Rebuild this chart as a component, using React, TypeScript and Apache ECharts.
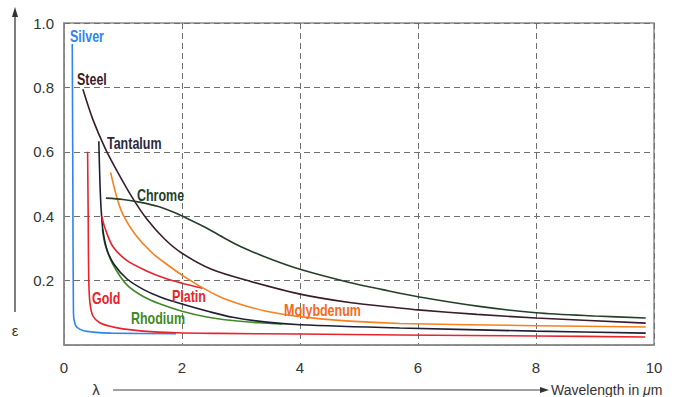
import React, { useEffect, useRef } from "react";
import * as echarts from "echarts";

// Wavelength (µm) vs emissivity ε
const silver: [number, number][] = [
  [0.14, 0.935], [0.15, 0.5], [0.16, 0.1], [0.18, 0.07], [0.22, 0.055],
  [0.32, 0.045], [0.5, 0.04], [0.8, 0.037], [1.9, 0.035],
];
const gold: [number, number][] = [
  [0.4, 0.6], [0.41, 0.4], [0.42, 0.2], [0.44, 0.13], [0.49, 0.09], [0.6, 0.07],
  [0.78, 0.058], [1.0, 0.05], [1.34, 0.043], [1.9, 0.038], [2.6, 0.036],
  [4.0, 0.034], [5.7, 0.031], [8.0, 0.028], [9.85, 0.025],
];
const steel: [number, number][] = [
  [0.32, 0.794], [0.49, 0.7], [0.7, 0.61], [0.9, 0.54], [1.15, 0.46],
  [1.4, 0.392], [1.7, 0.33], [2.0, 0.285], [2.5, 0.235], [3.15, 0.198],
  [4.0, 0.158], [4.84, 0.132], [5.68, 0.115], [6.0, 0.109], [7.0, 0.095],
  [8.0, 0.084], [9.86, 0.068],
];
const tantalum: [number, number][] = [
  [0.59, 0.633], [0.61, 0.5], [0.63, 0.42], [0.66, 0.355], [0.73, 0.295],
  [0.85, 0.25], [1.07, 0.205], [1.35, 0.172], [1.62, 0.15], [2.0, 0.127],
  [2.47, 0.103], [2.86, 0.086], [3.43, 0.071], [4.0, 0.063], [5.69, 0.053],
  [8.0, 0.043], [9.86, 0.037],
];
const rhodium: [number, number][] = [
  [0.65, 0.36], [0.7, 0.31], [0.83, 0.25], [1.07, 0.186], [1.35, 0.15],
  [1.62, 0.128], [2.0, 0.105], [2.4, 0.088], [2.86, 0.076], [3.3, 0.069],
  [3.7, 0.065],
];
const platin: [number, number][] = [
  [0.64, 0.4], [0.7, 0.36], [0.83, 0.305], [1.07, 0.262], [1.4, 0.23],
  [1.7, 0.208], [2.0, 0.192], [2.35, 0.176],
];
const molybdenum: [number, number][] = [
  [0.79, 0.536], [0.9, 0.455], [1.0, 0.405], [1.2, 0.345], [1.5, 0.285],
  [1.8, 0.243], [2.0, 0.217], [2.3, 0.183], [2.64, 0.15], [3.0, 0.126],
  [3.43, 0.105], [4.0, 0.088], [4.84, 0.074], [5.69, 0.067], [8.0, 0.06],
  [9.86, 0.056],
];
const chrome: [number, number][] = [
  [0.71, 0.456], [1.0, 0.452], [1.3, 0.443], [1.6, 0.43], [1.85, 0.413],
  [2.1, 0.392], [2.4, 0.365], [2.7, 0.334], [3.0, 0.305], [3.5, 0.267],
  [4.0, 0.235], [4.84, 0.194], [5.4, 0.172], [6.0, 0.15], [7.04, 0.12],
  [8.0, 0.1], [9.0, 0.09], [9.86, 0.084],
];

const xMin = 0, xMax = 10, xStep = 2;
const yMin = 0, yMax = 1, yStep = 0.2;

const SANS = "'Liberation Sans', Arial, sans-serif";

const seriesDefs = [
  { name: "Silver", data: silver, color: "#2f84f2" },
  { name: "Gold", data: gold, color: "#e8232c" },
  { name: "Rhodium", data: rhodium, color: "#3f8a25" },
  { name: "Tantalum", data: tantalum, color: "#1f1f33" },
  { name: "Platin", data: platin, color: "#e8232c" },
  { name: "Molybdenum", data: molybdenum, color: "#f7801f" },
  { name: "Steel", data: steel, color: "#3a1c2c" },
  { name: "Chrome", data: chrome, color: "#263f2b" },
];

const labels = [
  { text: "Silver", x: 70, y: 36, color: "#2f84f2" },
  { text: "Steel", x: 77, y: 79, color: "#3a1c2c" },
  { text: "Tantalum", x: 107, y: 143, color: "#2a2a3a" },
  { text: "Chrome", x: 137, y: 195, color: "#263f2b" },
  { text: "Gold", x: 92, y: 298, color: "#e8232c" },
  { text: "Platin", x: 172, y: 296, color: "#e8232c" },
  { text: "Rhodium", x: 131, y: 318, color: "#3f8a25" },
  { text: "Molybdenum", x: 284, y: 310, color: "#f26a22" },
];

export default function App() {
  const ref = useRef<HTMLDivElement>(null);
  useEffect(() => {
    document.body.style.margin = "0";
    if (!ref.current) return;
    const chart = echarts.init(ref.current, undefined, { renderer: "svg" });
    const axisColor = "#8a8a8a";
    chart.setOption({
      animation: false,
      backgroundColor: "#ffffff",
      grid: {
        left: 64, right: 23, top: 23, bottom: 52,
        show: true, borderColor: axisColor, borderWidth: 1.5,
      },
      xAxis: {
        type: "value", min: xMin, max: xMax, interval: xStep,
        axisLine: { show: true, lineStyle: { color: axisColor, width: 1.5 } },
        axisTick: { show: false },
        splitLine: { show: true, lineStyle: { color: "#6f6f6f", type: [6, 4], width: 1 } },
        axisLabel: { margin: 15, color: "#333", fontSize: 15, fontFamily: SANS },
      },
      yAxis: {
        type: "value", min: yMin, max: yMax, interval: yStep,
        axisLine: { show: true, lineStyle: { color: axisColor, width: 1.5 } },
        axisTick: { show: false },
        splitLine: { show: true, lineStyle: { color: "#6f6f6f", type: [6, 4], width: 1 } },
        axisLabel: {
          margin: 10, color: "#333", fontSize: 15, fontFamily: SANS,
          formatter: (v: number) => (v === 0 ? "" : v.toFixed(1)),
        },
      },
      series: seriesDefs.map((s) => ({
        name: s.name,
        type: "line",
        data: s.data,
        showSymbol: false,
        smooth: 0.3,
        lineStyle: { color: s.color, width: 1.6 },
        itemStyle: { color: s.color },
        z: 3,
      })),
      graphic: [
        ...labels.map((l) => ({
          type: "text", x: l.x, y: l.y, z: 10, scaleX: 0.78,
          style: {
            text: l.text, fill: l.color, font: `bold 16px ${SANS}`,
            textVerticalAlign: "middle", verticalAlign: "middle",
          },
        })),
        { type: "line", shape: { x1: 15, y1: 312, x2: 15, y2: 14 }, style: { stroke: "#555", lineWidth: 1.5 } },
        { type: "polygon", shape: { points: [[15, 7], [12, 17], [18, 17]] }, style: { fill: "#333" } },
        { type: "text", x: 15, y: 330, style: { text: "ε", fill: "#333", font: `15px ${SANS}`, textAlign: "center", align: "center", verticalAlign: "middle", textVerticalAlign: "middle" } },
        { type: "text", x: 96, y: 389, style: { text: "λ", fill: "#333", font: `15px ${SANS}`, textAlign: "center", align: "center", verticalAlign: "middle", textVerticalAlign: "middle" } },
        { type: "line", shape: { x1: 113, y1: 390, x2: 542, y2: 390 }, style: { stroke: "#444", lineWidth: 1.2 } },
        { type: "polygon", shape: { points: [[549, 390], [540, 387], [540, 393]] }, style: { fill: "#333" } },
        {
          type: "text", x: 551, y: 390,
          style: {
            text: "{a|Wavelength in }{b|μ}{a|m}",
            verticalAlign: "middle", textVerticalAlign: "middle",
            rich: {
              a: { fill: "#333", color: "#333", fontSize: 14, fontFamily: SANS },
              b: { fill: "#333", color: "#333", fontSize: 14, fontFamily: SANS, fontStyle: "italic" },
            },
          },
        },
      ],
    });
    return () => chart.dispose();
  }, []);
  return <div ref={ref} style={{ width: 677, height: 397 }} />;
}
